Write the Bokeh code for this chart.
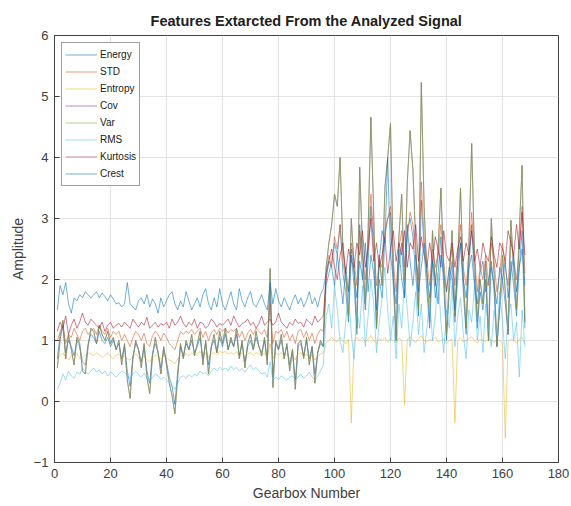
from bokeh.plotting import figure
from bokeh.models import Range1d, FixedTicker, Legend, LegendItem
from bokeh.embed import file_html
from bokeh.resources import INLINE

gearbox = list(range(1, 169))

energy_vals = [
    0.7, 1.1, 1.2, 0.8, 1.0, 0.9, 0.75, 1.0, 0.9, 0.65, 0.6, 0.95,
    1.1, 1.05, 0.95, 1.15, 1.0, 0.95, 1.05, 0.9, 1.0, 0.85, 0.95, 0.7,
    0.9, 0.5, 0.25, 0.75, 0.95, 0.85, 0.65, 0.9, 0.5, 0.3, 0.8, 0.95,
    0.8, 0.55, 0.85, 0.65, 0.4, 0.25, -0.05, 0.5, 0.9, 0.75, 0.95, 0.85,
    1.0, 0.8, 0.9, 1.05, 0.7, 0.95, 0.6, 0.9, 1.0, 0.8, 1.05, 0.9,
    1.1, 0.85, 1.0, 0.9, 1.1, 0.75, 0.95, 0.65, 0.9, 1.0, 0.85, 1.05,
    0.9, 0.8, 1.0, 0.7, 1.9, 0.4, 0.95, 0.85, 1.0, 0.75, 0.9, 0.6,
    0.85, 0.35, 0.9, 0.95, 0.75, 1.0, 0.7, 0.9, 0.45, 0.8, 0.95, 0.9,
    1.9, 2.1, 2.3, 2.6, 2.4, 2.9, 2.1, 1.8, 1.3, 2.4, 1.9, 1.1,
    2.9, 2.1, 1.5, 2.3, 3.2, 2.5, 1.2, 2.0, 1.7, 2.7, 3.0, 3.1,
    1.9, 1.0, 2.2, 2.6, 1.7, 2.8, 3.0, 2.7, 2.1, 1.4, 3.3, 2.5,
    1.8, 1.2, 2.3, 1.7, 2.1, 2.7, 1.9, 1.0, 1.8, 2.3, 1.3, 2.0,
    2.6, 1.8, 1.1, 2.2, 2.9, 2.0, 1.2, 1.8, 1.5, 2.0, 1.0, 2.3,
    1.8, 0.9, 1.5, 2.0, 1.6, 1.1, 2.3, 1.9, 1.4, 2.2, 2.8, 1.2,
]

std_vals = [
    1.0, 1.15, 1.25, 0.95, 1.1, 1.05, 1.2, 1.1, 1.0, 1.15, 1.2, 1.1,
    1.15, 1.2, 1.1, 1.25, 1.15, 1.1, 1.2, 1.05, 1.15, 1.1, 1.15, 1.0,
    1.1, 1.0, 0.9, 1.05, 1.15, 1.1, 1.0, 1.12, 0.95, 0.9, 1.08, 1.15,
    1.1, 1.0, 1.12, 1.05, 0.95, 0.9, 0.85, 1.0, 1.15, 1.1, 1.15, 1.12,
    1.18, 1.1, 1.15, 1.2, 1.05, 1.15, 1.0, 1.12, 1.18, 1.1, 1.2, 1.15,
    1.2, 1.12, 1.18, 1.15, 1.2, 1.05, 1.15, 1.0, 1.12, 1.18, 1.1, 1.2,
    1.15, 1.1, 1.18, 1.05, 1.6, 0.95, 1.15, 1.12, 1.18, 1.05, 1.15, 1.0,
    1.1, 0.95, 1.15, 1.18, 1.05, 1.15, 1.0, 1.12, 0.95, 1.1, 1.18, 1.15,
    2.1, 2.4, 2.2, 2.7, 2.5, 2.9, 2.3, 2.0, 1.8, 2.6, 2.3, 1.9,
    2.8, 2.4, 2.0, 2.6, 3.4, 2.7, 1.9, 2.3, 2.2, 2.8, 3.0, 3.2,
    2.3, 1.8, 2.5, 2.8, 2.2, 2.7, 3.1, 2.9, 2.4, 2.0, 3.6, 2.7,
    2.3, 1.9, 2.5, 2.2, 2.4, 2.9, 2.3, 1.8, 2.2, 2.5, 1.9, 2.4,
    2.9, 2.2, 1.9, 2.4, 3.1, 2.4, 1.8, 2.2, 2.0, 2.4, 1.9, 2.6,
    2.3, 1.8, 2.1, 2.6, 2.2, 1.9, 2.7, 2.3, 2.0, 2.5, 3.2, 2.1,
]

entropy_vals = [
    0.7, 0.75, 0.8, 0.72, 0.68, 0.75, 0.8, 0.78, 0.7, 0.72, 0.76, 0.8,
    0.78, 0.75, 0.8, 0.77, 0.72, 0.75, 0.8, 0.74, 0.7, 0.76, 0.78, 0.72,
    0.75, 0.7, 0.68, 0.74, 0.78, 0.72, 0.7, 0.75, 0.68, 0.65, 0.72, 0.76,
    0.74, 0.7, 0.75, 0.72, 0.68, 0.66, 0.62, 0.7, 0.76, 0.74, 0.78, 0.75,
    0.8, 0.76, 0.78, 0.82, 0.75, 0.8, 0.72, 0.78, 0.8, 0.76, 0.82, 0.8,
    0.82, 0.78, 0.8, 0.77, 0.82, 0.74, 0.8, 0.72, 0.78, 0.8, 0.76, 0.8,
    0.78, 0.75, 0.8, 0.72, 0.95, 0.7, 0.8, 0.76, 0.8, 0.74, 0.78, 0.7,
    0.76, 0.68, 0.78, 0.8, 0.74, 0.78, 0.72, 0.76, 0.68, 0.74, 0.78, 0.8,
    0.95, 1.0, 1.05, 1.0, 0.98, 1.05, 1.0, 0.95, 1.02, -0.35, 0.98, 1.05,
    1.0, 1.05, 0.98, 1.02, 1.08, 1.0, 0.95, 1.03, 1.0, 1.05, 0.98, 1.02,
    1.0, 0.96, 1.04, 1.0, -0.05, 1.02, 1.06, 1.0, 0.97, 1.03, 1.08, 1.0,
    0.98, 1.02, 1.0, 1.05, 0.97, 1.0, 1.03, 0.95, 1.0, 1.02, -0.35, 1.0,
    1.04, 0.98, 1.0, 1.03, 1.06, 1.0, 0.96, 1.02, 1.0, 0.98, 1.03, 1.0,
    0.97, 1.02, 1.0, 0.95, -0.6, 0.98, 1.03, 1.0, 0.96, 1.02, 1.05, 0.95,
]

var_vals = [
    0.55, 1.0, 1.33, 0.7, 1.1, 0.85, 0.6, 1.05, 0.95, 0.5, 0.45, 0.9,
    1.2, 1.15, 0.95, 1.25, 1.1, 1.0, 1.15, 0.95, 1.05, 0.85, 1.0, 0.6,
    0.95, 0.35, 0.05, 0.7, 1.0, 0.85, 0.55, 0.95, 0.4, 0.13, 0.75, 1.05,
    0.8, 0.45, 0.9, 0.6, 0.3, 0.1, -0.2, 0.4, 0.95, 0.7, 1.0, 0.85,
    1.1, 0.75, 0.95, 1.15, 0.6, 1.0, 0.45, 0.9, 1.1, 0.8, 1.15, 0.95,
    1.2, 0.85, 1.05, 0.9, 1.2, 0.7, 1.0, 0.55, 0.95, 1.1, 0.85, 1.15,
    0.9, 0.75, 1.05, 0.6, 2.18, 0.23, 1.0, 0.85, 1.1, 0.7, 0.95, 0.5,
    0.85, 0.2, 0.95, 1.0, 0.7, 1.05, 0.6, 0.9, 0.3, 0.8, 1.0, 0.9,
    2.2, 2.6, 2.9, 3.4, 3.2, 4.0, 2.5, 2.1, 1.4, 3.0, 2.2, 1.2,
    3.84, 2.5, 1.6, 2.8, 4.66, 3.1, 1.2, 2.4, 1.9, 3.5, 4.0, 4.56,
    2.2, 1.0, 2.7, 3.4, 1.9, 3.6, 4.44, 3.8, 2.6, 1.5, 5.23, 3.2,
    2.1, 1.3, 2.8, 1.9, 2.5, 3.5, 2.2, 1.1, 2.0, 2.8, 1.4, 2.3,
    3.5, 2.0, 1.2, 2.6, 4.23, 2.4, 1.3, 2.0, 1.6, 2.3, 1.0, 3.0,
    2.1, 0.9, 1.6, 2.4, 1.8, 1.1, 2.97, 2.2, 1.5, 2.8, 3.87, 1.3,
]

cov_vals = list(var_vals)

rms_vals = [
    0.2, 0.3, 0.45, 0.35, 0.5, 0.42, 0.38, 0.48, 0.45, 0.55, 0.5, 0.45,
    0.5, 0.55, 0.48, 0.52, 0.45, 0.5, 0.42, 0.48, 0.45, 0.4, 0.45, 0.5,
    0.48, 0.42, 0.38, 0.45, 0.5, 0.44, 0.4, 0.46, 0.38, 0.32, 0.4, 0.45,
    0.42, 0.36, 0.4, 0.35, 0.3, 0.25, 0.2, 0.3, 0.4, 0.42, 0.38, 0.44,
    0.4, 0.45, 0.42, 0.5, 0.45, 0.48, 0.42, 0.5, 0.55, 0.5, 0.56, 0.52,
    0.55, 0.5, 0.58, 0.52, 0.56, 0.5, 0.54, 0.48, 0.55, 0.6, 0.52, 0.56,
    0.5, 0.45, 0.48, 0.4, 0.65, 0.35, 0.4, 0.36, 0.42, 0.38, 0.35, 0.4,
    0.42, 0.36, 0.4, 0.45, 0.38, 0.42, 0.48, 0.4, 0.35, 0.42, 0.5, 0.6,
    1.4, 1.6, 1.2, 1.9, 1.5, 1.0, 0.8, 1.3, 1.8, 1.1, 0.7, 1.5,
    1.2, 1.9, 0.9, 1.4, 2.0, 1.6, 0.8, 1.3, 1.7, 2.2, 1.5, 1.0,
    1.4, 0.7, 1.6, 1.2, 2.0, 1.5, 0.9, 1.3, 1.8, 1.1, 1.6, 0.8,
    1.2, 1.7, 1.0, 1.4, 2.1, 1.3, 0.8, 1.5, 1.2, 1.9, 0.9, 1.4,
    1.7, 1.1, 0.7, 1.5, 1.3, 1.9, 1.0, 1.4, 0.8, 1.6, 1.2, 0.9,
    1.5, 1.1, 1.8, 1.3, 0.7, 1.4, 1.6, 1.0, 1.3, 0.4, 1.5, 0.9,
]

kurtosis_vals = [
    1.15, 1.3, 1.2, 1.4, 1.1, 1.25, 1.35, 1.2, 1.3, 1.45, 1.3, 1.25,
    1.35, 1.3, 1.25, 1.2, 1.3, 1.15, 1.25, 1.3, 1.2, 1.25, 1.28, 1.22,
    1.3, 1.25, 1.2, 1.35, 1.28, 1.22, 1.3, 1.25, 1.38, 1.2, 1.25, 1.3,
    1.22, 1.28, 1.25, 1.3, 1.2, 1.35, 1.25, 1.3, 1.4, 1.28, 1.22, 1.3,
    1.25, 1.35, 1.2, 1.3, 1.28, 1.2, 1.25, 1.35, 1.3, 1.22, 1.28, 1.25,
    1.3, 1.35, 1.25, 1.4, 1.3, 1.22, 1.28, 1.3, 1.35, 1.25, 1.3, 1.2,
    1.28, 1.4, 1.25, 1.3, 1.35, 1.25, 1.3, 1.45, 1.3, 1.25, 1.2, 1.3,
    1.25, 1.35, 1.28, 1.3, 1.22, 1.35, 1.3, 1.25, 1.4, 1.3, 1.35, 1.4,
    2.0, 2.3, 2.5, 2.2, 2.0, 2.4, 2.6, 2.1, 2.5, 2.3, 2.2, 2.6,
    2.4, 2.8, 2.2, 2.5, 3.0, 2.3, 2.6, 2.2, 2.4, 2.7, 2.1, 2.5,
    2.8, 2.3, 2.6, 2.4, 2.8, 2.2, 2.6, 2.5, 2.9, 2.3, 2.7, 2.4,
    2.2, 2.6, 2.3, 2.7, 2.5, 2.2, 2.8, 2.4, 2.3, 2.6, 2.2, 2.5,
    2.7, 2.3, 2.6, 2.4, 2.8, 2.3, 2.5, 2.2, 2.6, 2.4, 2.3, 2.7,
    2.4, 2.2, 2.6, 2.5, 2.3, 2.8, 2.6, 2.4, 2.9, 2.5, 3.1, 2.4,
]

crest_vals = [
    1.5, 1.9, 1.75, 1.95, 1.6, 1.45, 1.7, 1.65, 1.75, 1.7, 1.8, 1.75,
    1.7, 1.75, 1.8, 1.7, 1.78, 1.72, 1.65, 1.75, 1.68, 1.6, 1.62, 1.55,
    1.6, 1.95, 1.6, 1.55, 1.5, 1.65, 1.7, 1.6, 1.75, 1.55, 1.68, 1.6,
    1.45, 1.7, 1.55, 1.65, 1.75, 1.8, 1.6, 1.5, 1.65, 1.55, 1.8, 1.65,
    1.5, 1.6, 1.7, 1.55, 1.75, 1.85, 1.6, 1.5, 1.7, 1.55, 1.85, 1.6,
    1.5, 1.65, 1.8, 1.6, 1.5, 1.85, 1.65, 1.55, 1.7, 1.8, 1.6, 1.55,
    1.65, 1.75, 1.6, 1.5, 1.95, 1.6, 1.85, 1.65, 1.55, 1.7, 1.6, 1.5,
    1.65, 1.75, 1.6, 1.7, 1.55, 1.65, 1.8, 1.6, 1.7, 1.55, 1.75, 1.85,
    2.1, 2.3, 2.2, 1.9, 2.4, 2.0, 1.6, 2.2, 1.8, 2.5, 2.1, 1.7,
    2.3, 2.0, 2.6, 1.8, 2.4, 2.1, 1.5, 2.3, 2.8, 2.6, 4.0, 2.4,
    2.0, 1.6, 2.5, 2.0, 1.7, 2.9, 2.3, 1.9, 2.4, 1.8, 2.2, 2.6,
    2.1, 1.7, 2.3, 2.0, 1.6, 2.4, 2.1, 1.8, 2.2, 2.0, 1.5, 2.3,
    2.6, 2.0, 1.7, 2.2, 2.4, 1.9, 1.6, 2.1, 2.3, 1.8, 2.0, 2.2,
    1.9, 1.6, 2.2, 2.0, 2.3, 1.7, 2.1, 2.4, 1.8, 2.2, 2.5, 1.9,
]

series_names = ["Energy", "STD", "Entropy", "Cov", "Var", "RMS", "Kurtosis", "Crest"]
series_vals = [energy_vals, std_vals, entropy_vals, cov_vals, var_vals,
               rms_vals, kurtosis_vals, crest_vals]
series_colors = ["#0072BD", "#D95319", "#EDB120", "#7E2F8E", "#77AC30",
                 "#4DBEEE", "#A2142F", "#0072BD"]

x_ticks = [0, 20, 40, 60, 80, 100, 120, 140, 160, 180]
y_ticks = [-1, 0, 1, 2, 3, 4, 5, 6]

FONT = "Liberation Sans"
AXC = "#404040"

p = figure(width=571, height=506, output_backend="svg", toolbar_location=None,
           x_range=Range1d(0, 180), y_range=Range1d(-1, 6),
           min_border_left=54, min_border_right=13, min_border_top=35,
           min_border_bottom=44)

p.title.text = "Features Extarcted From the Analyzed Signal"
p.title.align = "center"
p.title.vertical_align = "middle"
p.title.text_font = FONT
p.title.text_font_size = "14.5px"
p.title.text_font_style = "bold"
p.title.text_color = "#202020"
p.title.offset = 0
p.title.standoff = 12

for ax in (p.xaxis[0], p.yaxis[0]):
    ax.major_label_text_font = FONT
    ax.major_label_text_font_size = "13px"
    ax.major_label_text_color = AXC
    ax.axis_label_text_font = FONT
    ax.axis_label_text_font_size = "14px"
    ax.axis_label_text_font_style = "normal"
    ax.axis_label_text_color = AXC
    ax.axis_line_color = AXC
    ax.major_tick_line_color = AXC
    ax.major_tick_in = 5
    ax.major_tick_out = 0
    ax.minor_tick_line_color = None

p.xaxis[0].ticker = FixedTicker(ticks=x_ticks)
p.yaxis[0].ticker = FixedTicker(ticks=y_ticks)
p.xaxis[0].axis_label = "Gearbox Number"
p.yaxis[0].axis_label = "Amplitude"
p.xaxis[0].major_label_standoff = 6
p.xaxis[0].axis_label_standoff = 4
p.yaxis[0].major_label_standoff = 6
p.yaxis[0].axis_label_standoff = 5

p.xgrid.ticker = FixedTicker(ticks=x_ticks)
p.ygrid.ticker = FixedTicker(ticks=y_ticks)
p.grid.grid_line_color = "#e3e3e3"
p.grid.grid_line_width = 1
p.outline_line_color = AXC

items = []
for name, vals, col in zip(series_names, series_vals, series_colors):
    r = p.line(gearbox, vals, line_color=col, line_width=0.7, line_alpha=0.8)
    items.append(LegendItem(label=name, renderers=[r]))

legend = Legend(items=items, location="top_left")
legend.margin = 7
legend.padding = 3
legend.spacing = 0
legend.glyph_width = 32
legend.glyph_height = 17
legend.label_height = 17
legend.label_standoff = 3
legend.label_text_font = FONT
legend.label_text_font_size = "10px"
legend.label_text_color = "#202020"
legend.border_line_color = AXC
legend.border_line_width = 1
legend.background_fill_color = "white"
legend.background_fill_alpha = 1
p.add_layout(legend)

open("out.html", "w").write(file_html(p, INLINE))
